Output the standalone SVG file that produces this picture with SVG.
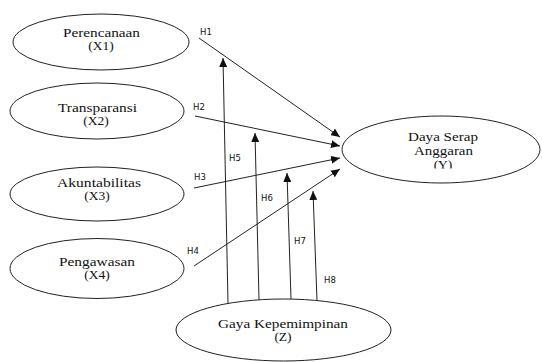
<svg xmlns="http://www.w3.org/2000/svg" width="542" height="362" viewBox="0 0 542 362">
<style>
.node ellipse{fill:#fff;stroke:#222;stroke-width:1}
.node text{font-family:"Liberation Serif","Times New Roman",serif;font-size:13.5px;fill:#111;text-anchor:middle}
.conn line{stroke:#222;stroke-width:1}
.lbl{font-family:"DejaVu Sans",sans-serif;font-size:8.5px;fill:#111;text-anchor:middle}
</style>
<defs>
<marker id="ah" markerUnits="userSpaceOnUse" markerWidth="9" markerHeight="8" viewBox="0 0 9 8" refX="9" refY="4" orient="auto">
<path d="M0,0 L9,4 L0,8 Z" fill="#111"/>
</marker>
<clipPath id="clipY"><rect x="400" y="150" width="100" height="18.5"/></clipPath>
</defs>
<rect width="542" height="362" fill="#fff"/>
<g id="connectors" class="conn">
<line x1="199" y1="38" x2="340" y2="137" marker-end="url(#ah)"/>
<line x1="195" y1="116" x2="340" y2="146" marker-end="url(#ah)"/>
<line x1="194" y1="188" x2="340" y2="158" marker-end="url(#ah)"/>
<line x1="194" y1="266" x2="340" y2="169" marker-end="url(#ah)"/>
<line x1="228" y1="303.5" x2="223" y2="58" marker-end="url(#ah)"/>
<line x1="259" y1="300" x2="255" y2="133" marker-end="url(#ah)"/>
<line x1="291" y1="299.2" x2="287" y2="173" marker-end="url(#ah)"/>
<line x1="317" y1="300.5" x2="313" y2="191" marker-end="url(#ah)"/>
<text class="lbl" x="206" y="35">H1</text>
<text class="lbl" x="199" y="110">H2</text>
<text class="lbl" x="200" y="180">H3</text>
<text class="lbl" x="193" y="254">H4</text>
<text class="lbl" x="235" y="161">H5</text>
<text class="lbl" x="267" y="201">H6</text>
<text class="lbl" x="300" y="244">H7</text>
<text class="lbl" x="330" y="283">H8</text>
</g>
<g id="X1" class="node">
<ellipse cx="101" cy="42" rx="88" ry="28"/>
<text x="101.5" y="36.7" textLength="77" lengthAdjust="spacingAndGlyphs">Perencanaan</text>
<text x="101" y="49.8">(X1)</text>
</g>
<g id="X2" class="node">
<ellipse cx="97" cy="111" rx="87" ry="28"/>
<text x="97.5" y="111.7" textLength="79" lengthAdjust="spacingAndGlyphs">Transparansi</text>
<text x="96" y="124.8">(X2)</text>
</g>
<g id="X3" class="node">
<ellipse cx="97" cy="194" rx="87" ry="27"/>
<text x="99" y="187.4" textLength="84" lengthAdjust="spacingAndGlyphs">Akuntabilitas</text>
<text x="97" y="199.8">(X3)</text>
</g>
<g id="X4" class="node">
<ellipse cx="97" cy="268.5" rx="87" ry="30"/>
<text x="97" y="265.7" textLength="76" lengthAdjust="spacingAndGlyphs">Pengawasan</text>
<text x="97" y="279">(X4)</text>
</g>
<g id="Y" class="node">
<ellipse cx="441" cy="149.5" rx="99" ry="33.5"/>
<text x="443" y="140.5" textLength="70" lengthAdjust="spacingAndGlyphs">Daya Serap</text>
<text x="443.5" y="155" textLength="59" lengthAdjust="spacingAndGlyphs">Anggaran</text>
<text x="443" y="169" clip-path="url(#clipY)">(Y)</text>
</g>
<g id="Z" class="node">
<ellipse cx="283.5" cy="330" rx="107.5" ry="31"/>
<text x="283" y="327.5" textLength="130" lengthAdjust="spacingAndGlyphs">Gaya Kepemimpinan</text>
<text x="283" y="340.8">(Z)</text>
</g>
</svg>
